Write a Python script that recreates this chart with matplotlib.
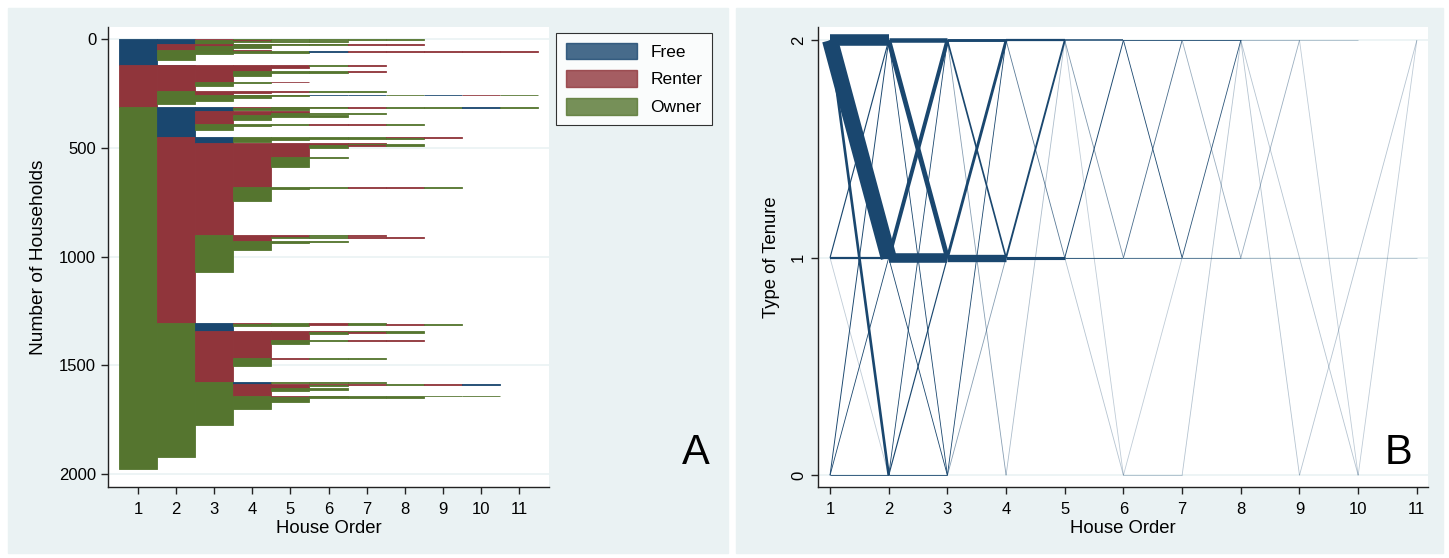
import numpy as np
import matplotlib.pyplot as plt
from matplotlib.patches import Patch, Rectangle

plt.rcParams['font.family'] = ['Liberation Sans', 'DejaVu Sans']

# tenure: F = Free (0), R = Renter (1), O = Owner (2)
state_codes = {'F': 0, 'R': 1, 'O': 2}
state_names = ['Free', 'Renter', 'Owner']
state_colors = ['#1a476f', '#90353b', '#55752f']
house_order = list(range(1, 12))

# tenure sequence over house order, and number of households with it
sequences = [
    'FFROOOOO', 'FFOOOO', 'FFOR', 'FFO',
    'FRRRRRR', 'FRROOORR', 'FRRO', 'FROO', 'FRO',
    'FORR', 'FOOOOFRRRRR', 'FOOOO', 'FOOR', 'FOO', 'FO', 'F',
    'RF', 'RRROOOR', 'RRRRROR', 'RRRRR', 'RRRR', 'RRROOO', 'RRRO', 'RRR',
    'RROOR', 'RROO', 'RRO', 'RR',
    'RORRROO', 'RORR', 'ROR', 'ROOOO', 'ROORRFFOFRO', 'ROOO', 'ROO', 'RO', 'R',
    'OFFROOROOFO', 'OFFRRRR', 'OFFOOO', 'OFFOO', 'OFFO', 'OFF',
    'OFRROOO', 'OFRRO', 'OFRRR', 'OFROOO', 'OFRO', 'OFR',
    'OFOOORRO', 'OFOO', 'OFO', 'OF',
    'ORFOOOORR', 'ORFOOOOO', 'ORFOO', 'ORFO', 'ORF',
    'ORRRRROO', 'ORRRRORO', 'ORRRRRR', 'ORRRRO', 'ORRRR', 'ORRROO', 'ORRRO', 'ORRR',
    'ORROOORRO', 'ORROO', 'ORRO', 'ORR',
    'OROROORR', 'ORORROR', 'ORORR', 'OROR', 'OROOOO', 'OROOO', 'OROO', 'ORO', 'OR',
    'OOFOORORO', 'OOFRORO', 'OOFOO', 'OOF',
    'OORRRORO', 'OORRRROO', 'OORRRO', 'OORRR', 'OORROORR', 'OORRO', 'OORR',
    'OOROROO', 'OORO', 'OOR',
    'OOOFOOO', 'OOOF', 'OOORRRRORF', 'OOORRORO', 'OOORRO', 'OOORR', 'OOOROO', 'OOORO', 'OOOR',
    'OOOORROOOO', 'OOOOROOO', 'OOOOOOOO', 'OOOOO', 'OOOO', 'OOO', 'OO', 'O',
]
households = [
    4, 6, 4, 6,
    3, 3, 6, 8, 7,
    4, 2, 4, 4, 8, 28, 19,
    2, 4, 6, 8, 14, 5, 15, 24,
    3, 6, 12, 21,
    4, 8, 6, 5, 3, 8, 12, 15, 12,
    2, 3, 4, 5, 4, 4,
    5, 8, 6, 6, 13, 20,
    3, 6, 19, 34,
    3, 4, 6, 6, 8,
    3, 4, 4, 10, 43, 6, 41, 92,
    3, 5, 53, 158,
    3, 3, 6, 14, 5, 8, 30, 103, 235,
    3, 3, 6, 24,
    3, 3, 6, 28, 3, 16, 64,
    3, 32, 77,
    4, 4, 3, 3, 4, 10, 6, 8, 19,
    3, 4, 5, 20, 30, 72, 150, 54,
]

# sort like a sequence index plot: Free < Renter < Owner < no further house
data = sorted(zip(sequences, households),
              key=lambda t: [state_codes[c] for c in t[0]] + [3])
starts = np.cumsum([0] + [c for _, c in data])
total = starts[-1]

fig = plt.figure(figsize=(14.49, 5.58), dpi=100)
W, H = 1449, 558
bg = '#eaf2f3'
fig.add_artist(Rectangle((8 / W, 1 - 553 / H), 720 / W, 545 / H,
                         transform=fig.transFigure, color=bg, zorder=-5))
fig.add_artist(Rectangle((736 / W, 1 - 553 / H), 707 / W, 545 / H,
                         transform=fig.transFigure, color=bg, zorder=-5))

def axes_px(x0, x1, y0, y1):
    return fig.add_axes([x0 / W, 1 - y1 / H, (x1 - x0) / W, (y1 - y0) / H])

def style(ax):
    for s in ['top', 'right']:
        ax.spines[s].set_visible(False)
    for s in ['left', 'bottom']:
        ax.spines[s].set_color('#222222')
        ax.spines[s].set_linewidth(1.0)
    ax.tick_params(direction='out', length=5, width=1, color='#222222',
                   labelsize=12)
    ax.set_facecolor('white')

# ---- panel A: sequence index plot
ax = axes_px(108, 549, 27, 487)
style(ax)
max_len = max(len(s) for s, _ in data)
for k in range(max_len):
    run_state, run_start = None, 0
    for i, (seq, c) in enumerate(data + [('', 0)]):
        st = seq[k] if k < len(seq) else None
        if st != run_state:
            if run_state is not None:
                col = state_colors[state_codes[run_state]]
                ax.barh(run_start, 1, left=house_order[k] - 0.5,
                        height=starts[i] - run_start, align='edge',
                        color=col, edgecolor=col, linewidth=0.6, zorder=2)
            run_state, run_start = st, starts[i]
ax.set_xlim(0.21, 11.79)
ax.set_ylim(2060, -57)
ax.set_xticks(house_order)
ax.set_yticks([0, 500, 1000, 1500, 2000])
ax.yaxis.grid(True, color=bg, linewidth=1.2, zorder=0)
ax.set_axisbelow(True)
ax.tick_params(axis='x', pad=6)
ax.set_xlabel('House Order', fontsize=13.3, labelpad=2)
ax.set_ylabel('Number of Households', fontsize=13.8, labelpad=9)

handles = [Patch(facecolor=state_colors[i], edgecolor=state_colors[i],
                 alpha=0.8, label=state_names[i]) for i in range(3)]
leg = ax.legend(handles=handles, loc='upper left',
                bbox_to_anchor=(556 / W, 1 - 33 / H), bbox_transform=fig.transFigure,
                fontsize=12.5, frameon=True, fancybox=False, handlelength=4.1,
                handleheight=1.1, labelspacing=0.6, borderpad=0.55,
                handletextpad=0.8, borderaxespad=0)
leg.get_frame().set_edgecolor('black')
leg.get_frame().set_linewidth(0.8)
fig.text(696 / W, 1 - 453 / H, 'A', fontsize=30, ha='center', va='center')

# ---- panel B: transitions between consecutive houses
trans = {}
for seq, c in data:
    for k in range(len(seq) - 1):
        key = (house_order[k], state_codes[seq[k]], state_codes[seq[k + 1]])
        trans[key] = trans.get(key, 0) + c

bx = axes_px(818, 1428, 27, 487)
style(bx)
for (h, a, b), c in sorted(trans.items(), key=lambda t: t[1]):
    bx.plot([h, h + 1], [a, b], color='#1a476f',
            linewidth=max(0.6, c * 0.0135),
            alpha=min(1.0, 0.2 + 0.8 * c / 20),
            solid_capstyle='butt', zorder=2)
bx.set_xlim(0.795, 11.19)
bx.set_ylim(-0.054, 2.061)
bx.set_xticks(house_order)
bx.set_yticks([0, 1, 2])
bx.yaxis.grid(True, color=bg, linewidth=1.2, zorder=0)
bx.set_axisbelow(True)
for t in bx.get_yticklabels():
    t.set_rotation(90)
    t.set_va('center')
bx.tick_params(axis='x', pad=6)
bx.set_xlabel('House Order', fontsize=13.3, labelpad=2)
bx.set_ylabel('Type of Tenure', fontsize=13.3, labelpad=8)
fig.text(1399 / W, 1 - 453 / H, 'B', fontsize=30, ha='center', va='center')

fig.savefig('out.png', dpi=100, facecolor='white')
